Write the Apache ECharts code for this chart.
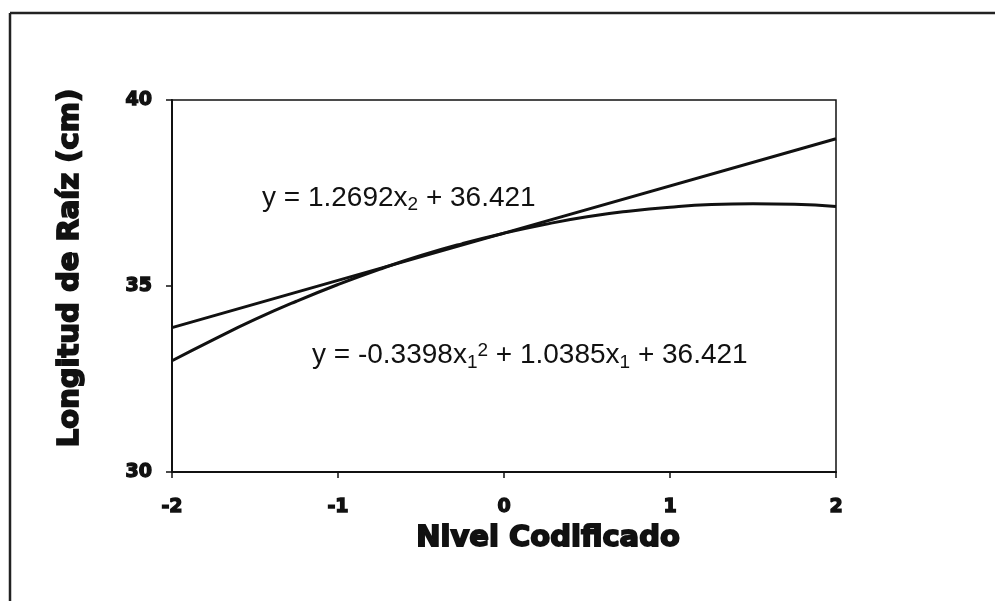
<!DOCTYPE html>
<html>
<head>
<meta charset="utf-8">
<script src="https://cdn.jsdelivr.net/npm/echarts@6/dist/echarts.min.js"></script>
<style>html,body{margin:0;padding:0;background:#fff}#c{width:995px;height:601px}</style>
</head>
<body>
<div id="c"></div>
<script>
// Nivel codificado (x) values
const xLinear = [-2, 0, 2];
const yLinear = [33.88, 36.42, 38.96];
const xQuad = [-2, -1.75, -1.5, -1.25, -1, -0.75, -0.5, -0.25, 0, 0.25, 0.5, 0.75, 1, 1.25, 1.5, 1.75, 2];
const yQuad = [32.99, 33.56, 34.10, 34.59, 35.04, 35.45, 35.82, 36.14, 36.42, 36.66, 36.86, 37.01, 37.12, 37.19, 37.21, 37.20, 37.14];
const xTicks = [-2, -1, 0, 1, 2];
const yTicks = [30, 35, 40];
const xTitle = 'Nivel Codificado';
const yTitle = 'Longitud de Raíz (cm)';

const chart = echarts.init(document.getElementById('c'), null, {renderer: 'canvas'});
const heavy = {fontFamily: 'DejaVu Sans', fontWeight: 'bold', color: '#111', textBorderColor: '#111', textBorderWidth: 1.4};
const titleStyle = {fontFamily: 'DejaVu Sans', fontWeight: 'bold', fontSize: 29, fill: '#111', stroke: '#111', lineWidth: 1.8, align: 'center', verticalAlign: 'middle'};
const eqBase = {fontFamily: 'Liberation Sans', fontSize: 28, fill: '#111'};
const sub = {fontFamily: 'Liberation Sans', fontSize: 19, fill: '#111', padding: [14, 0, 0, 0]};
const sup = {fontFamily: 'Liberation Sans', fontSize: 19, fill: '#111', padding: [0, 0, 10, 0]};
chart.setOption({
  backgroundColor: '#fff',
  animation: false,
  grid: {left: 172, right: 159, top: 100, bottom: 129, show: true, borderColor: '#111', borderWidth: 1.5},
  xAxis: {
    type: 'value', min: -2, max: 2, interval: 1,
    axisLine: {onZero: false, lineStyle: {color: '#111', width: 2}},
    axisTick: {show: true, length: 6, inside: false, lineStyle: {color: '#111', width: 1.5}},
    splitLine: {show: false},
    axisLabel: Object.assign({fontSize: 19, margin: 26, formatter: v => xTicks.includes(v) ? String(v) : ''}, heavy)
  },
  yAxis: {
    type: 'value', min: 30, max: 40, interval: 5,
    axisLine: {show: true, onZero: false, lineStyle: {color: '#111', width: 2}},
    axisTick: {show: true, length: 6, lineStyle: {color: '#111', width: 1.5}},
    splitLine: {show: false},
    axisLabel: Object.assign({fontSize: 19, margin: 20, formatter: v => yTicks.includes(v) ? String(v) : ''}, heavy)
  },
  series: [
    {type: 'line', data: xLinear.map((x, i) => [x, yLinear[i]]), showSymbol: false, lineStyle: {color: '#111', width: 3}},
    {type: 'line', data: xQuad.map((x, i) => [x, yQuad[i]]), smooth: true, showSymbol: false, lineStyle: {color: '#111', width: 3}}
  ],
  graphic: [
    {type: 'line', shape: {x1: 10, y1: 13, x2: 995, y2: 13}, style: {stroke: '#222', lineWidth: 2.5}},
    {type: 'line', shape: {x1: 10, y1: 13, x2: 10, y2: 601}, style: {stroke: '#222', lineWidth: 2.5}},
    {type: 'text', x: 548, y: 538, style: Object.assign({text: xTitle}, titleStyle)},
    {type: 'text', x: 70, y: 268, rotation: Math.PI / 2, style: Object.assign({text: yTitle}, titleStyle)},
    {type: 'text', left: 262, top: 184, style: {
      text: '{b|y = 1.2692x}{s|2}{b| + 36.421}',
      rich: {b: eqBase, s: sub}
    }},
    {type: 'text', left: 312, top: 341, style: {
      text: '{b|y = -0.3398x}{s|1}{p|2}{b| + 1.0385x}{s|1}{b| + 36.421}',
      rich: {b: eqBase, s: sub, p: sup}
    }}
  ]
});
</script>
</body>
</html>
